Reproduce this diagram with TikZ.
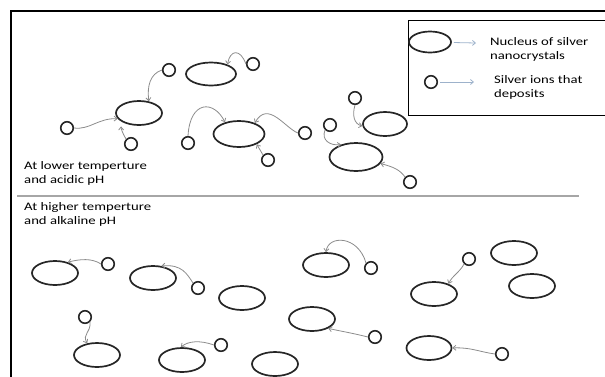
\documentclass[tikz,border=0pt]{standalone}
\usepackage{fontspec}
\setmainfont{Carlito}[FakeStretch=1.28]
\usetikzlibrary{shapes.geometric,arrows.meta}
\definecolor{keyblue}{HTML}{9DB2CB}

\begin{document}
\begin{tikzpicture}
            [x=1pt,y=1pt,
             nucleus/.style={ellipse,draw=black!85,line width=1.7pt,minimum width=46pt,minimum height=24pt,inner sep=0pt},
             ion/.style={circle,draw=black!85,line width=1.6pt,minimum size=12.5pt,inner sep=0pt},
             deposit/.style={draw=black!45,line width=.8pt,-{Straight Barb[length=3pt,width=5pt]}},
             key/.style={draw=keyblue,line width=.8pt,shorten <=2pt,-{Straight Barb[length=3pt,width=5pt]}},
             note/.style={anchor=north west,inner sep=0pt,align=left,text=black,font=\fontsize{11.5}{14.5}\selectfont}]
            \useasboundingbox (0,0) rectangle (605,-376);
            \clip (0,0) rectangle (605,-376);
            % frame, legend box and divider
            \draw[line width=2.5pt] (11,-430) -- (11,-11) -- (650,-11);
            \draw[line width=1pt] (408,-20) rectangle (650,-115);
            \draw[black!35,line width=2pt] (17,-196) -- (579,-196);
            % legend
            \node[nucleus,minimum width=42pt,minimum height=21pt] (k1) at (430,-42) {};
            \node[ion] (k2) at (431,-82) {};
            \coordinate (k1e) at (476,-43);
            \coordinate (k2e) at (474,-82);
            \draw[key] (k1) -- (k1e);
            \draw[key] (k2) -- (k2e);
            \node[note] (t1) at (490,-37) {Nucleus of silver\\nanocrystals};
            \node[note] (t2) at (494,-75) {Silver ions that\\deposits};
            \node[note] (t3) at (24,-161) {At lower temperture\\and acidic pH};
            \node[note] (t4) at (24,-202) {At higher temperture\\and alkaline pH};
            % lower temperature
            \node[nucleus,minimum width=50pt,minimum height=23pt] (n1) at (211,-74) {};
            \node[nucleus] (n2) at (139,-113) {};
            \node[nucleus,minimum width=51pt,minimum height=26pt] (n3) at (239,-134) {};
            \node[nucleus,minimum width=44pt] (n4) at (385,-124) {};
            \node[nucleus,minimum width=53pt,minimum height=28pt] (n5) at (356,-157) {};
            \node[ion] (i1) at (253,-64) {};
            \node[ion] (i2) at (169,-70) {};
            \node[ion] (i3) at (67,-128) {};
            \node[ion] (i4) at (131,-144) {};
            \node[ion] (i5) at (188,-143) {};
            \node[ion] (i6) at (268,-160) {};
            \node[ion] (i7) at (305,-133) {};
            \node[ion] (i8) at (355,-98) {};
            \node[ion] (i9) at (330,-125) {};
            \node[ion] (i10) at (410,-182) {};
            \draw[deposit] (i1.west) .. controls (240,-48) and (230,-50) .. (n1.30);
            \draw[deposit] (i2.west) .. controls (150,-74) and (147,-86) .. (n2.50);
            \draw[deposit] (i3.east) .. controls (90,-130) and (98,-118) .. (n2.195);
            \draw[deposit,shorten >=5pt] (i4.north west) to[bend left=15] (n2.205);
            \draw[deposit] (i5.north) .. controls (190,-100) and (214,-100) .. (n3.140);
            \draw[deposit] (i6.north west) -- (n3.330);
            \draw[deposit] (i7.west) .. controls (285,-128) and (268,-100) .. (n3.35);
            \draw[deposit] (i8.south) .. controls (352,-115) and (354,-124) .. (n4.185);
            \draw[deposit] (i9.south west) .. controls (321,-140) and (330,-146) .. (n5.140);
            \draw[deposit] (i10.north west) .. controls (400,-170) and (394,-167) .. (n5.345);
            % higher temperature
            \node[nucleus] (n6) at (55,-273) {};
            \node[nucleus] (n7) at (153,-278) {};
            \node[nucleus] (n8) at (242,-298) {};
            \node[nucleus] (n9) at (97,-355) {};
            \node[nucleus] (n10) at (182,-360) {};
            \node[nucleus] (n11) at (275,-364) {};
            \node[nucleus] (n12) at (312,-319) {};
            \node[nucleus] (n13) at (326,-265) {};
            \node[nucleus] (n14) at (434,-294) {};
            \node[nucleus] (n15) at (514,-253) {};
            \node[nucleus] (n16) at (532,-286) {};
            \node[nucleus,minimum width=45pt] (n17) at (429,-348) {};
            \node[ion] (i11) at (108,-264) {};
            \node[ion] (i12) at (198,-288) {};
            \node[ion] (i13) at (85,-317) {};
            \node[ion] (i14) at (221,-345) {};
            \node[ion] (i15) at (375,-337) {};
            \node[ion] (i16) at (371,-268) {};
            \node[ion] (i17) at (469,-259) {};
            \node[ion] (i18) at (502,-354) {};
            \draw[deposit] (i11.west) .. controls (92,-258) and (80,-259) .. (n6.40);
            \draw[deposit] (i12.north west) .. controls (187,-274) and (182,-264) .. (n7.55);
            \draw[deposit] (i13.south east) .. controls (91,-333) and (82,-334) .. (n9.130);
            \draw[deposit] (i14.west) .. controls (200,-340) and (188,-341) .. (n10.95);
            \draw[deposit] (i15.west) .. controls (352,-333) and (340,-331) .. (n12.330);
            \draw[deposit] (i16.north west) .. controls (358,-235) and (328,-235) .. (n13.north);
            \draw[deposit] (i17.south west) .. controls (460,-272) and (452,-276) .. (n14.35);
            \draw[deposit] (i18.west) .. controls (480,-352) and (470,-347) .. (n17.east);
        \end{tikzpicture}
\end{document}
